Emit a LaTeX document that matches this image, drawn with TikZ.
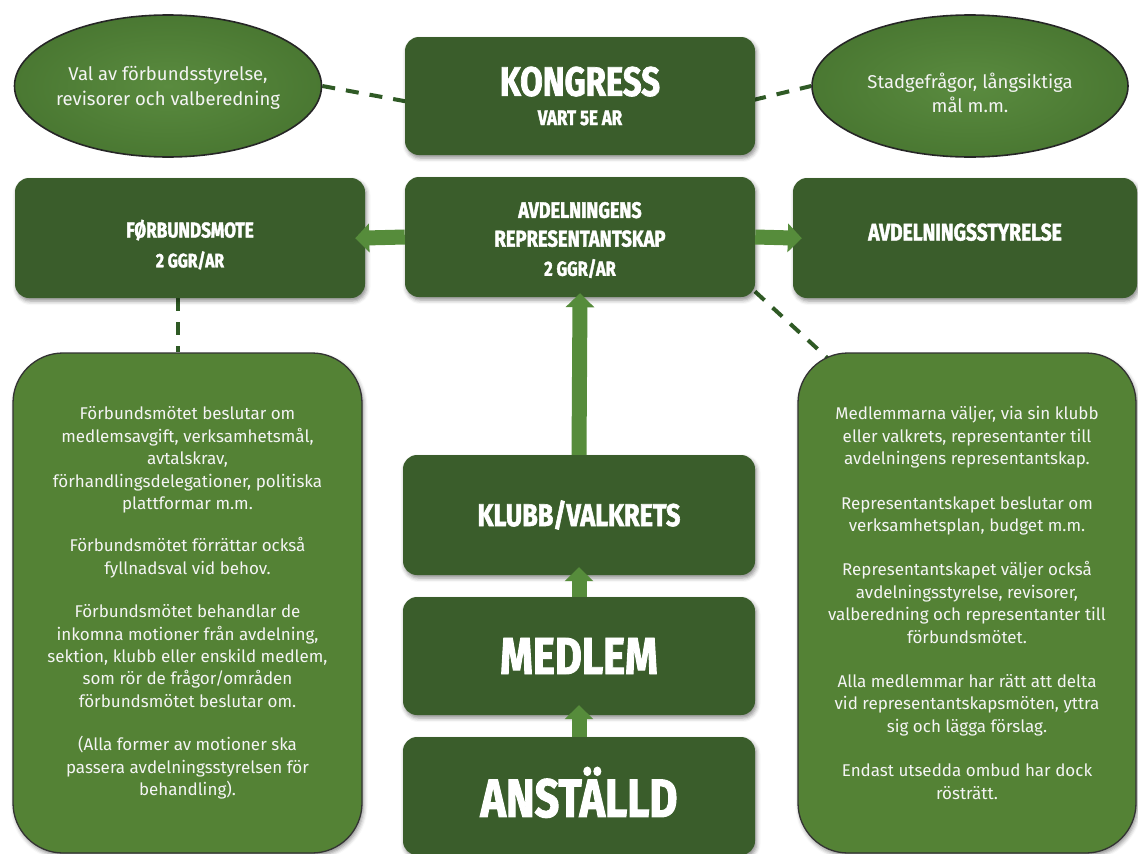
\documentclass[tikz,border=0pt]{standalone}
\usepackage{fontspec}
\setmainfont{Fira Sans}
\newfontfamily\headfont[FakeStretch=0.80,FakeBold=1.8]{Fira Sans}
\usetikzlibrary{shapes.geometric,arrows.meta,shadows.blur,calc,backgrounds}
\definecolor{boxgreen}{HTML}{3A5D2B}
\definecolor{txtgreen}{HTML}{548235}
\definecolor{ellin}{HTML}{5A8B3F}
\definecolor{ellout}{HTML}{4A7832}
\definecolor{arrgreen}{HTML}{568C3B}
\definecolor{dashgreen}{HTML}{2F5A25}
\definecolor{offwhite}{HTML}{F4F4F4}
\tikzset{
  softshadow/.style={blur shadow={shadow xshift=1.5pt, shadow yshift=-3pt, shadow blur radius=4pt, shadow opacity=45}},
  headbox/.style={rectangle, rounded corners=14pt, fill=boxgreen, text=white, align=center,
    inner sep=0pt, minimum width=350pt, minimum height=118pt, softshadow,
    font=\headfont\bfseries},
  ovalbox/.style={ellipse, draw=black!85, line width=1.6pt, shading=radial, inner color=ellin,
    outer color=ellout, inner sep=0pt},
  ovaltext/.style={text=offwhite, align=center, font=\fontsize{18.5}{24.5}\selectfont},
  notebox/.style={rectangle, rounded corners=50pt, fill=txtgreen, draw=black!80, line width=1.3pt,
    text=offwhite, align=center, inner sep=0pt, softshadow,
    font=\fontsize{17}{22.4}\selectfont},
  dashline/.style={draw=dashgreen, line width=4pt, dash pattern=on 13pt off 11pt},
  bigarrow/.style={draw=arrgreen, line width=15pt, -{Triangle[width=28pt,length=14pt]}},
}
\begin{document}
\begin{tikzpicture}[x=1pt,y=-1pt]
\useasboundingbox (0,0) rectangle (1138,854);

% ellipses
\node[ovalbox, minimum width=307pt, minimum height=142pt,
  label={[ovaltext, yshift=-2pt]center:Val av förbundsstyrelse,\\revisorer och valberedning}] (lell) at (168,86) {};
\node[ovalbox, minimum width=316pt, minimum height=142pt,
  label={[ovaltext, yshift=-7pt]center:Stadgefrågor, långsiktiga\\mål m.m.}] (rell) at (970,86) {};

% heading boxes
\node[headbox] (kong) at (580,96)
  {{\fontsize{41}{41}\selectfont KONGRESS}\\[13pt]{\fontsize{21}{21}\selectfont VART 5E AR}};
\node[headbox, minimum height=120pt] (avd) at (580,237)
  {{\fontsize{22.5}{22.5}\selectfont\rule{0pt}{22pt}AVDELNINGENS}\\[11pt]{\fontsize{23}{23}\selectfont REPRESENTANTSKAP}\\[11pt]{\fontsize{20.5}{20.5}\selectfont 2 GGR/AR}};
\node[headbox, minimum height=120pt] (forb) at (190,238)
  {{\fontsize{21.5}{21.5}\selectfont\rule{0pt}{31pt}FØRBUNDSMOTE}\\[10pt]{\fontsize{19.5}{19.5}\selectfont 2 GGR/AR}};
\node[headbox, minimum height=120pt, minimum width=344pt] (styr) at (965,238)
  {{\fontsize{24}{24}\selectfont\rule[-12pt]{0pt}{12pt}AVDELNINGSSTYRELSE}};
\node[headbox, minimum height=120pt, minimum width=352pt] (klubb) at (579,515)
  {{\fontsize{31.5}{31.5}\selectfont KLUBB/VALKRETS}};
\node[headbox, minimum height=118pt, minimum width=352pt] (medlem) at (579,656)
  {{\fontsize{52}{52}\selectfont MEDLEM}};
\node[headbox, minimum height=118pt, minimum width=352pt] (anst) at (579,796)
  {{\fontsize{54}{54}\selectfont\rule[-8pt]{0pt}{8pt}ANSTÄLLD}};

% note boxes
\node[notebox, minimum width=349pt, minimum height=500pt] (ltext) at (187.5,603)
  {Förbundsmötet beslutar om\\
   medlemsavgift, verksamhetsmål,\\
   avtalskrav,\\
   förhandlingsdelegationer, politiska\\
   plattformar m.m.\\[20pt]
   Förbundsmötet förrättar också\\
   fyllnadsval vid behov.\\[21pt]
   Förbundsmötet behandlar de\\
   inkomna motioner från avdelning,\\
   sektion, klubb eller enskild medlem,\\
   som rör de frågor/områden\\
   förbundsmötet beslutar om.\\[21pt]
   (Alla former av motioner ska\\
   passera avdelningsstyrelsen för\\
   behandling).};
\node[notebox, minimum width=338pt, minimum height=500pt] (rtext) at (967,603)
  {Medlemmarna väljer, via sin klubb\\
   eller valkrets, representanter till\\
   avdelningens representantskap.\\[22pt]
   Representantskapet beslutar om\\
   verksamhetsplan, budget m.m.\\[22pt]
   Representantskapet väljer också\\
   avdelningsstyrelse, revisorer,\\
   valberedning och representanter till\\
   förbundsmötet.\\[22pt]
   Alla medlemmar har rätt att delta\\
   vid representantskapsmöten, yttra\\
   sig och lägga förslag.\\[22pt]
   Endast utsedda ombud har dock\\
   rösträtt.};

% dashed connectors
\begin{pgfonlayer}{background}
\draw[dashline] (lell.east) -- ($(kong.west)+(10,7)$);
\draw[dashline] ($(kong.east)+(-2,4)$) -- (rell.west);
\draw[dashline] ($(forb.south)+(-12,0)$) -- ($(ltext.north)+(-9.5,0)$);
\draw[dashline] ($(avd.south east)+(-18,-22)$) -- ($(rtext.north west)+(37,12)$);
\end{pgfonlayer}

% arrows
\draw[bigarrow, shorten >=-10pt] (avd.west) -- (forb.east);
\draw[bigarrow, shorten >=-9pt] (avd.east) -- (styr.west);
\draw[bigarrow, shorten >=-4pt] (klubb.north) -- (avd.south);
\draw[bigarrow, shorten >=-8pt] (medlem.north) -- (klubb.south);
\draw[bigarrow, shorten >=-10pt] (anst.north) -- (medlem.south);
\end{tikzpicture}
\end{document}
